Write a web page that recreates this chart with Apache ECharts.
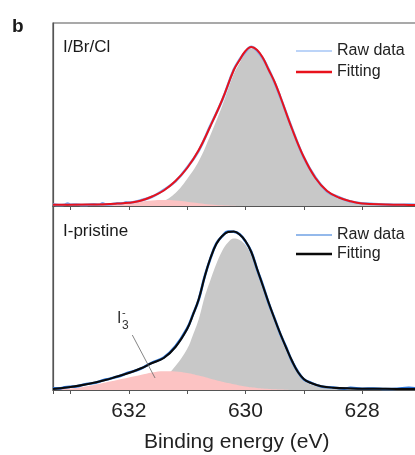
<!DOCTYPE html>
<html>
<head>
<meta charset="utf-8">
<script src="https://cdn.jsdelivr.net/npm/echarts@6/dist/echarts.min.js"></script>
<style>
    html, body { margin: 0; padding: 0; background: #fff; }
    #chart { width: 415px; height: 455px; }
</style>
</head>
<body>
<div id="chart"></div>
<script>
// binding energy (eV) for the I/Br/Cl panel
var energyTop = [633.3, 633.0, 632.7, 632.4, 632.2, 632.0, 631.8, 631.6, 631.4, 631.2,
    631.0, 630.8, 630.6, 630.4, 630.2, 630.1, 630.0, 629.9, 629.8, 629.7,
    629.6, 629.5, 629.4, 629.2, 629.0, 628.8, 628.6, 628.4, 628.2, 628.0,
    627.6, 627.2, 627.0];
var fitTop = [1.3, 1.3, 1.4, 1.8, 2.4, 3.2, 5.2, 9.5, 15.5, 25,
    38, 56, 80, 106, 136, 146, 155, 159, 156, 148,
    136, 124, 109, 77, 49, 28, 15, 8.5, 4.8, 2.6,
    1.6, 1.1, 1.0];
var mainTop = [0, 0, 0, 0, 0, 0.3, 0.8, 2, 5, 13,
    27, 45, 71, 100, 132, 143, 153, 157.5, 155, 147,
    135, 123, 108, 76, 48, 27, 14, 7.5, 4, 2,
    1, 0.6, 0.5];
var minorTop = [0, 0, 0.2, 0.8, 1.8, 3, 4.5, 5.6, 6, 5.5,
    4.3, 2.8, 1.6, 0.7, 0.2, 0, 0, 0, 0, 0,
    0, 0, 0, 0, 0, 0, 0, 0, 0, 0,
    0, 0, 0];
var rawEnergyTop = [633.3, 633.2, 633.1, 633.05, 633.0, 632.9, 632.8, 632.7, 632.6, 632.5,
    632.45, 632.4, 632.3, 632.2, 632.1, 632.05, 632.0, 631.8, 631.6, 631.4,
    631.2, 631.0, 630.8, 630.6, 630.4, 630.2, 630.1, 630.0, 629.9, 629.8,
    629.7, 629.6, 629.5, 629.4, 629.2, 629.0, 628.8, 628.6, 628.4, 628.2,
    628.0, 627.8, 627.6, 627.4, 627.2, 627.0];
var rawTop = [1.6, 1.0, 1.3, 2.4, 1.2, 1.5, 1.0, 1.2, 1.6, 1.3,
    2.8, 1.6, 1.8, 2.6, 2.7, 3.8, 3.4, 5.6, 9.2, 16.2,
    24.6, 38.5, 55.4, 80.6, 105.5, 136.4, 146.5, 154.2, 159.3, 155.2,
    147.5, 136.4, 123.5, 108.6, 77.4, 48.6, 28.5, 14.6, 8.8, 4.5,
    2.8, 2.0, 1.5, 1.2, 1.4, 1.0];

// binding energy (eV) for the I-pristine panel
var energyBot = [633.3, 633.0, 632.7, 632.4, 632.2, 632.0, 631.8, 631.6, 631.4, 631.2,
    631.0, 630.9, 630.8, 630.7, 630.6, 630.5, 630.4, 630.3, 630.2, 630.1,
    630.0, 629.9, 629.8, 629.7, 629.6, 629.5, 629.4, 629.3, 629.2, 629.1,
    629.0, 628.9, 628.7, 628.5, 628.2, 627.8, 627.4, 627.0];
var fitBot = [1.0, 3.0, 6, 10, 13.5, 17, 21.5, 27, 32, 43,
    61, 75, 91, 113, 132, 146, 154, 158, 158.5, 155.5,
    149, 138, 121, 104, 87, 71, 56, 42, 29, 18,
    11, 7.5, 3.8, 2.3, 1.6, 1.3, 1.1, 1.0];
var mainBot = [0, 0, 0, 0, 0, 0.5, 1.5, 5, 12, 24,
    41, 55, 71, 93, 110, 126, 139, 147.5, 151.5, 150,
    145, 134.5, 118, 101, 84, 68, 53, 39, 27, 16.5,
    9.5, 6, 2.7, 1.5, 0.8, 0.5, 0.4, 0.3];
var minorBot = [0.5, 1.5, 4, 7.5, 10, 12.5, 15, 17.5, 18.8, 18.6,
    17, 15.8, 14.5, 13, 11.3, 9.8, 8.3, 7, 5.8, 4.6,
    3.6, 2.7, 2, 1.4, 1, 0.7, 0.4, 0.2, 0, 0,
    0, 0, 0, 0, 0, 0, 0, 0];
var rawEnergyBot = [633.3, 633.2, 633.1, 633.0, 632.9, 632.8, 632.7, 632.6, 632.5, 632.4,
    632.2, 632.0, 631.8, 631.6, 631.4, 631.2, 631.0, 630.9, 630.8, 630.7,
    630.6, 630.5, 630.4, 630.3, 630.2, 630.1, 630.0, 629.9, 629.8, 629.7,
    629.6, 629.5, 629.4, 629.3, 629.2, 629.1, 629.0, 628.9, 628.7, 628.5,
    628.3, 628.2, 628.0, 627.8, 627.6, 627.4, 627.2, 627.0];
var rawBot = [1.8, 1.6, 2.6, 3.2, 3.6, 4.9, 6.2, 7.0, 8.6, 10.4,
    13.2, 17.4, 21.2, 27.4, 32.5, 43.6, 61.5, 75.4, 90.6, 113.4,
    131.6, 146.3, 153.7, 158.4, 158.2, 155.8, 148.6, 138.3, 120.7, 104.4,
    86.6, 71.3, 55.7, 42.4, 28.6, 18.3, 10.8, 7.7, 3.6, 2.5,
    1.4, 2.2, 1.3, 1.5, 1.0, 1.2, 2.1, 1.0];

// I3- pointer, from label to shoulder
var pointerStart = [631.94, 55];
var pointerEnd = [631.55, 12];

var FONT = "'Liberation Sans', Arial, sans-serif";
var AXIS_COLOR = '#555';

function pairs(xs, ys) {
    return xs.map(function (x, i) { return [x, ys[i]]; });
}

function xAxisFor(gridIdx, showLabels) {
    return {
        type: 'value', gridIndex: gridIdx, inverse: true,
        min: 627, max: 633.3, interval: 1,
        axisLine: {show: true, lineStyle: {color: AXIS_COLOR, width: 1.2}},
        axisTick: {show: true, inside: false, length: 4, lineStyle: {color: AXIS_COLOR, width: 1}},
        splitLine: {show: false},
        axisLabel: {
            show: showLabels, margin: 11, fontSize: 21, color: '#222', fontFamily: FONT,
            formatter: function (v) { return (v % 2 === 0) ? String(v) : ''; }
        },
        name: showLabels ? 'Binding energy (eV)' : '',
        nameLocation: 'middle', nameGap: 42,
        nameTextStyle: {fontSize: 21, color: '#222', fontFamily: FONT}
    };
}

function yAxisFor(gridIdx, top) {
    return {
        type: 'value', gridIndex: gridIdx, min: 0, max: top,
        axisLine: {show: true, lineStyle: {color: AXIS_COLOR, width: 1.2}},
        axisTick: {show: false}, axisLabel: {show: false}, splitLine: {show: false}
    };
}

function area(idx, name, data, color, z) {
    return {
        type: 'line', name: name, xAxisIndex: idx, yAxisIndex: idx, data: data,
        smooth: 0.4, symbol: 'none', silent: true, z: z,
        lineStyle: {width: 0}, areaStyle: {color: color, opacity: 1}
    };
}

function curve(idx, name, data, color, width, z) {
    return {
        type: 'line', name: name, xAxisIndex: idx, yAxisIndex: idx, data: data,
        smooth: 0.4, symbol: 'none', silent: true, z: z,
        lineStyle: {width: width, color: color}, itemStyle: {color: color}
    };
}

// one legend per entry so each line sample gets its own thickness
function legendFor(name, top, thick) {
    return {
        orient: 'vertical', left: 296, top: top, padding: 0,
        itemWidth: 36, itemHeight: thick, icon: 'rect', selectedMode: false,
        textStyle: {fontSize: 16, color: '#222', fontFamily: FONT, lineHeight: 16},
        data: [name]
    };
}

function label(text, left, top, size, weight) {
    return {
        text: text, left: left, top: top, padding: 0,
        textStyle: {fontSize: size, fontWeight: weight, color: '#1a1a1a', fontFamily: FONT}
    };
}

var option = {
    backgroundColor: '#fff',
    animation: false,
    title: [
        label('b', 12, 17, 19, 'bold'),
        label('I/Br/Cl', 63, 39, 17, 'normal'),
        label('I-pristine', 63, 223, 17, 'normal')
    ],
    legend: [
        legendFor('Raw data', 43, 1.2),
        legendFor('Fitting', 64, 2.6),
        legendFor('Raw data ', 227, 1.2),
        legendFor('Fitting ', 246, 2.6)
    ],
    grid: [
        {left: 53, top: 23, width: 367.4, height: 183, outerBoundsMode: 'none', show: true, borderColor: AXIS_COLOR, borderWidth: 1.2},
        {left: 53, top: 206, width: 367.4, height: 184, outerBoundsMode: 'none', show: true, borderColor: AXIS_COLOR, borderWidth: 1.2}
    ],
    xAxis: [xAxisFor(0, false), xAxisFor(1, true)],
    yAxis: [yAxisFor(0, 183), yAxisFor(1, 184)],
    graphic: [
        {type: 'text', left: 117, top: 311, z: 10, style: {text: 'I', fontSize: 16, fill: '#333', fontFamily: FONT}},
        {type: 'text', left: 122, top: 307, z: 10, style: {text: '-', fontSize: 11, fill: '#333', fontFamily: FONT}},
        {type: 'text', left: 122, top: 320, z: 10, style: {text: '3', fontSize: 12, fill: '#333', fontFamily: FONT}}
    ],
    series: [
        area(0, 'main top', pairs(energyTop, mainTop), '#c8c8c8', 1),
        area(0, 'minor top', pairs(energyTop, minorTop), '#fcc3c3', 2),
        curve(0, 'Raw data', pairs(rawEnergyTop, rawTop), '#7aaaf2', 2.6, 3),
        curve(0, 'Fitting', pairs(energyTop, fitTop), '#e8121c', 2, 4),

        area(1, 'main bot', pairs(energyBot, mainBot), '#c8c8c8', 1),
        (function () {
            var s = area(1, 'minor bot', pairs(energyBot, minorBot), '#fcc3c3', 2);
            s.markLine = {
                silent: true, symbol: ['none', 'none'],
                lineStyle: {color: '#666', width: 0.8, type: 'solid'},
                label: {show: false},
                data: [[{coord: pointerStart}, {coord: pointerEnd}]]
            };
            return s;
        })(),
        curve(1, 'Raw data ', pairs(rawEnergyBot, rawBot), '#2a74d8', 2.6, 3),
        curve(1, 'Fitting ', pairs(energyBot, fitBot), '#0a0a0a', 2, 4)
    ]
};

var chart = echarts.init(document.getElementById('chart'), null, {renderer: 'canvas'});
chart.setOption(option);
</script>
</body>
</html>
